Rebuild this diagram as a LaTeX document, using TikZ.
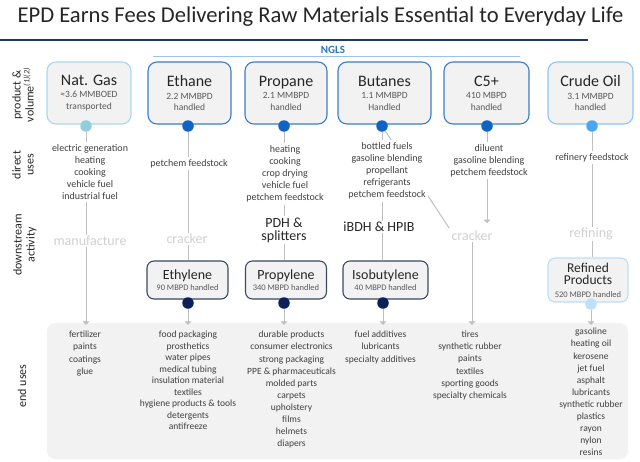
\documentclass[tikz,border=0pt]{standalone}
\usepackage{fontspec}
\setmainfont{Carlito}
\usetikzlibrary{arrows.meta,backgrounds}

\definecolor{boxgray}{HTML}{F2F2F2}
\definecolor{linegray}{HTML}{BFBFBF}
\definecolor{txtgray}{HTML}{404040}
\definecolor{subgray}{HTML}{595959}
\definecolor{actgray}{HTML}{D0D0D0}
\definecolor{darktxt}{HTML}{262626}
\definecolor{navyline}{HTML}{1F3864}
\definecolor{nglblue}{HTML}{2E75B6}
\definecolor{ngllight}{HTML}{9DC3E6}
\definecolor{gasedge}{HTML}{A7D8EC}
\definecolor{gaspt}{HTML}{92CDDC}
\definecolor{ngledge}{HTML}{3B7DC9}
\definecolor{nglpt}{HTML}{0E63C4}
\definecolor{crudeedge}{HTML}{8DC6F0}
\definecolor{crudept}{HTML}{4BA6F0}
\definecolor{slate}{HTML}{3C4A62}
\definecolor{navypt}{HTML}{0B1F5B}
\definecolor{refedge}{HTML}{BDDDF7}
\definecolor{refpt}{HTML}{BFE0FA}

\tikzset{
	prod/.style={draw, rounded corners=9pt, fill=boxgray, line width=1.1pt, minimum height=62pt, align=center, font=\fontsize{9.5}{11.5}\selectfont, text=subgray, inner sep=0pt},
	downbox/.style={draw=slate, rounded corners=7pt, fill=boxgray, line width=1.1pt, minimum width=81pt, minimum height=38pt, align=center, font=\fontsize{8.5}{10.5}\selectfont, text=subgray, inner sep=0pt},
	knob/.style={circle, inner sep=0pt, minimum size=11.5pt},
	uses/.style={anchor=north, align=center, fill=white, inner sep=2pt, text=txtgray, font=\fontsize{10}{12.2}\selectfont},
	ends/.style={anchor=north, align=center, inner sep=0pt, text=txtgray, font=\fontsize{9.5}{12.1}\selectfont},
	act/.style={text=actgray, font=\fontsize{14}{14}\selectfont, inner sep=1pt},
	plant/.style={text=darktxt, align=center, font=\fontsize{14}{13}\selectfont, inner sep=1pt},
	rowlab/.style={rotate=90, align=center, text=darktxt, font=\fontsize{12}{13}\selectfont},
	link/.style={draw=linegray, line width=1pt},
	feed/.style={link, -{Triangle[width=7pt,length=3.5pt]}, shorten >=-2pt},
}
\newcommand{\prodname}[1]{{\fontsize{16}{16}\selectfont\color{darktxt}#1}}
\newcommand{\downname}[1]{{\fontsize{14}{14}\selectfont\color{darktxt}#1}}
\newcommand{\refinedname}[1]{{\fontsize{13.5}{13.5}\selectfont\color{darktxt}#1}}

\begin{document}
\begin{tikzpicture}[x=1pt, y=-1pt]
	\useasboundingbox (0,0) rectangle (640,461);

	\node[font=\fontsize{22.6}{22.6}\selectfont, text=darktxt] (title) at (320.5,17) {EPD Earns Fees Delivering Raw Materials Essential to Everyday Life};
	\draw[navyline, line width=1.2pt] (0,40) -- (588,40);
	\node[text=nglblue, font=\bfseries\fontsize{11}{11}\selectfont] (ngls) at (333,50) {NGLS};
	\draw[ngllight, line width=1pt] (153,56) -- (520,56);

	% row labels
	\node[rowlab] (rowprod) at (23,95) {product \&\\volume\textsuperscript{\itshape(1)(2)}};
	\node[rowlab] (rowdirect) at (23,165) {direct\\uses};
	\node[rowlab] (rowdown) at (25,245) {downstream\\activity};
	\node[rowlab] (rowend) at (22,386) {end uses};

	% products
	\node[prod, draw=gasedge, minimum width=84pt] (natgas) at (89,93) {\prodname{Nat. Gas}\\[1pt]≈3.6 MMBOED\\transported};
	\node[prod, draw=ngledge, minimum width=83pt] (ethane) at (189.5,93) {\prodname{Ethane}\\[1pt]2.2 MMBPD\\handled};
	\node[prod, draw=ngledge, minimum width=82pt] (propane) at (286,93) {\prodname{Propane}\\[1pt]2.1 MMBPD\\handled};
	\node[prod, draw=ngledge, minimum width=93pt] (butanes) at (384.5,93) {\prodname{Butanes}\\[1pt]1.1 MMBPD\\Handled};
	\node[prod, draw=ngledge, minimum width=85pt] (cfive) at (486.5,93) {\prodname{C5+}\\[1pt]410 MBPD\\handled};
	\node[prod, draw=crudeedge, minimum width=85pt] (crude) at (590.5,93) {\prodname{Crude Oil}\\[1pt]3.1 MMBPD\\handled};

	\node[knob, fill=gaspt] (gasdot) at (86,126) {};
	\node[knob, fill=nglpt] (ethdot) at (188,126) {};
	\node[knob, fill=nglpt] (prodot) at (284,126) {};
	\node[knob, fill=nglpt] (butdot) at (382,126) {};
	\node[knob, fill=nglpt] (c5dot) at (487,126) {};
	\node[knob, fill=crudept] (crudot) at (592,126) {};

	% direct uses
	\node[uses] (gasuse) at (90,142) {electric generation\\heating\\cooking\\vehicle fuel\\industrial fuel};
	\node[uses] (ethuse) at (189,157) {petchem feedstock};
	\node[uses] (prouse) at (285,143) {heating\\cooking\\crop drying\\vehicle fuel\\petchem feedstock};
	\node[uses] (butuse) at (387,140) {bottled fuels\\gasoline blending\\propellant\\refrigerants\\petchem feedstock};
	\node[uses] (c5use) at (489,142) {diluent\\gasoline blending\\petchem feedstock};
	\node[uses] (cruse) at (592,151) {refinery feedstock};

	% downstream activity
	\node[act] (manuf) at (90,241) {manufacture};
	\node[act] (crack1) at (187,239) {cracker};
	\node[plant] (pdh) at (284,230) {PDH \&\\splitters};
	\node[plant] (ibdh) at (379,227) {iBDH \& HPIB};
	\node[act] (crack2) at (472,236) {cracker};
	\node[act] (refin) at (591,234) {refining};
	\coordinate (c5tip) at (487,223);

	\node[downbox] (ethylene) at (187.5,280) {\downname{Ethylene}\\[1pt]90 MBPD handled};
	\node[downbox] (propylene) at (286,280) {\downname{Propylene}\\[1pt]340 MBPD handled};
	\node[downbox, minimum width=85pt] (isobut) at (385.5,280) {\downname{Isobutylene}\\[1pt]40 MBPD handled};
	\node[downbox, draw=refedge, minimum width=80pt, minimum height=44pt] (refined) at (588,280) {\refinedname{Refined}\\[1.5pt]\refinedname{Products}\\[2.5pt]520 MBPD handled};

	\node[knob, fill=navypt] (ethydot) at (188,303) {};
	\node[knob, fill=navypt] (propdot) at (284,303) {};
	\node[knob, fill=navypt] (isodot) at (383,303) {};
	\node[knob, fill=refpt] (refdot) at (591,304) {};

	% end uses
	\node[ends] (gasend) at (85,331) {fertilizer\\paints\\coatings\\glue};
	\node[ends, font=\fontsize{9.5}{11.5}\selectfont] (ethend) at (188,331) {food packaging\\prosthetics\\water pipes\\medical tubing\\insulation material\\textiles\\hygiene products \& tools\\detergents\\antifreeze};
	\node[ends] (propend) at (291.5,331) {durable products\\consumer electronics\\strong packaging\\PPE \& pharmaceuticals\\molded parts\\carpets\\upholstery\\films\\helmets\\diapers};
	\node[ends] (isoend) at (380.5,331) {fuel additives\\lubricants\\specialty additives};
	\node[ends] (c5end) at (470,331) {tires\\synthetic rubber\\paints\\textiles\\sporting goods\\specialty chemicals};
	\node[ends] (refend) at (591,328) {gasoline\\heating oil\\kerosene\\jet fuel\\asphalt\\lubricants\\synthetic rubber\\plastics\\rayon\\nylon\\resins};

	\begin{pgfonlayer}{background}
		\node[fill=boxgray, rounded corners=8pt, minimum width=581pt, minimum height=136pt, inner sep=0pt] (endbox) at (337.5,391) {};
		% nat. gas
		\draw[link] (gasdot) -- (gasdot |- gasuse.north);
		\draw[link] (gasdot |- gasuse.south) -- (gasdot |- manuf.north);
		\draw[feed] (gasdot |- manuf.south) -- (gasdot |- endbox.north);
		% ethane
		\draw[link] (ethdot) -- (ethdot |- ethuse.north);
		\draw[link] (ethdot |- ethuse.south) -- (ethdot |- crack1.north);
		\draw[link] (ethdot |- crack1.south) -- (ethdot |- ethylene.north);
		\draw[feed] (ethydot) -- (ethydot |- endbox.north);
		% propane
		\draw[link] (prodot) -- (prodot |- prouse.north);
		\draw[link] (prodot |- prouse.south) -- (prodot |- pdh.north);
		\draw[link] (prodot |- pdh.south) -- (prodot |- propylene.north);
		\draw[feed] (propdot) -- (propdot |- endbox.north);
		% butanes
		\draw[link] (butdot) -- (butdot |- butuse.north);
		\draw[link, shorten >=2pt] (butdot) -- (crack2.north west);
		\draw[link] (butdot |- butuse.south) -- (butdot |- ibdh.north);
		\draw[link] (butdot |- ibdh.south) -- (butdot |- isobut.north);
		\draw[feed] (isodot) -- (isodot |- endbox.north);
		% c5+
		\draw[link] (c5dot) -- (c5dot |- c5use.north);
		\draw[feed, shorten >=0pt] (c5dot |- c5use.south) -- (c5tip);
		\draw[feed] (crack2.south) -- (crack2.south |- endbox.north);
		% crude oil
		\draw[link] (crudot) -- (crudot |- cruse.north);
		\draw[link] (crudot |- cruse.south) -- (crudot |- refin.north);
		\draw[link] (crudot |- refin.south) -- (crudot |- refined.north);
		\draw[feed] (refdot) -- (refdot |- endbox.north);
	\end{pgfonlayer}
\end{tikzpicture}
\end{document}
